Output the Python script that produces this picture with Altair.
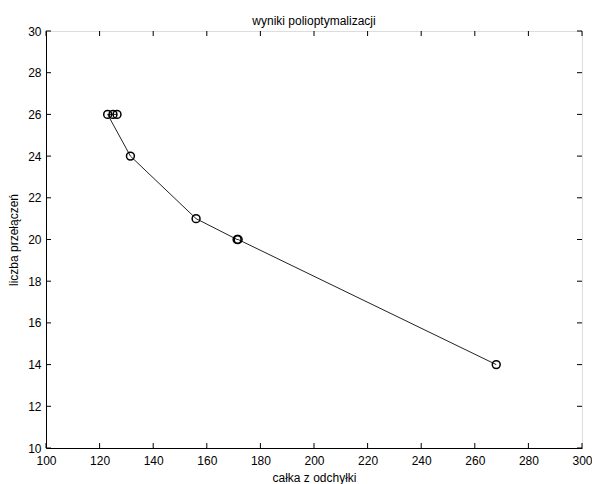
import altair as alt
import pandas as pd

# Pareto front of the multi-criteria optimisation runs
calka = [126.5, 125.0, 123.0, 131.5, 156.0, 171.3, 171.7, 268.0]
przelaczenia = [26, 26, 26, 24, 21, 20, 20, 14]
kolejnosc = list(range(len(calka)))

x_ticks = [100, 120, 140, 160, 180, 200, 220, 240, 260, 280, 300]
y_ticks = [10, 12, 14, 16, 18, 20, 22, 24, 26, 28, 30]

W, H = 536, 417
FONT = "Liberation Sans"
TICK = 5

df = pd.DataFrame({"calka": calka, "przelaczenia": przelaczenia, "kolejnosc": kolejnosc})
xt = pd.DataFrame({"v": x_ticks})
yt = pd.DataFrame({"v": y_ticks})

xs = alt.Scale(domain=[100, 300], nice=False, zero=False)
ys = alt.Scale(domain=[10, 30], nice=False, zero=False)

x_axis = alt.Axis(values=x_ticks, ticks=False, grid=False, labelFont=FONT, labelFontSize=12,
                  labelColor="black", labelPadding=7, labelFlush=False,
                  title="całka z odchyłki",
                  titleFont=FONT, titleFontSize=12, titleFontWeight="normal", titleColor="black",
                  titlePadding=6, domainColor="black")
y_axis = alt.Axis(values=y_ticks, ticks=False, grid=False, labelFont=FONT, labelFontSize=12,
                  labelColor="black", labelPadding=5, labelFlush=False,
                  title="liczba przełączeń",
                  titleFont=FONT, titleFontSize=12, titleFontWeight="normal", titleColor="black",
                  titlePadding=7, domainColor="black")

line = alt.Chart(df).mark_line(color="#222", strokeWidth=1).encode(
    x=alt.X("calka:Q", scale=xs, axis=x_axis),
    y=alt.Y("przelaczenia:Q", scale=ys, axis=y_axis),
    order="kolejnosc:Q",
)
pts = alt.Chart(df).mark_point(shape="circle", filled=False, color="black", size=62,
                               strokeWidth=1.5, opacity=1).encode(
    x=alt.X("calka:Q", scale=xs),
    y=alt.Y("przelaczenia:Q", scale=ys),
)

# inward tick marks on all four sides of the box
tb = alt.Chart(xt).mark_rule(color="black", strokeWidth=1).encode(
    x=alt.X("v:Q", scale=xs), y=alt.value(H), y2=alt.value(H - TICK))
tt = alt.Chart(xt).mark_rule(color="black", strokeWidth=1).encode(
    x=alt.X("v:Q", scale=xs), y=alt.value(0), y2=alt.value(TICK))
tl = alt.Chart(yt).mark_rule(color="black", strokeWidth=1).encode(
    y=alt.Y("v:Q", scale=ys), x=alt.value(0), x2=alt.value(TICK))
tr = alt.Chart(yt).mark_rule(color="black", strokeWidth=1).encode(
    y=alt.Y("v:Q", scale=ys), x=alt.value(W), x2=alt.value(W - TICK))

chart = alt.layer(line, pts, tb, tt, tl, tr).properties(
    width=W, height=H,
    title=alt.TitleParams("wyniki polioptymalizacji", font=FONT, fontSize=12,
                          fontWeight="normal", color="black", offset=-3),
    autosize=alt.AutoSizeParams(type="none"),
    padding={"left": 46, "top": 31, "right": 10, "bottom": 36},
).configure_view(stroke="black", strokeWidth=1).configure(background="white")

chart.save("out.html", embed_options={"renderer": "svg", "actions": False})
